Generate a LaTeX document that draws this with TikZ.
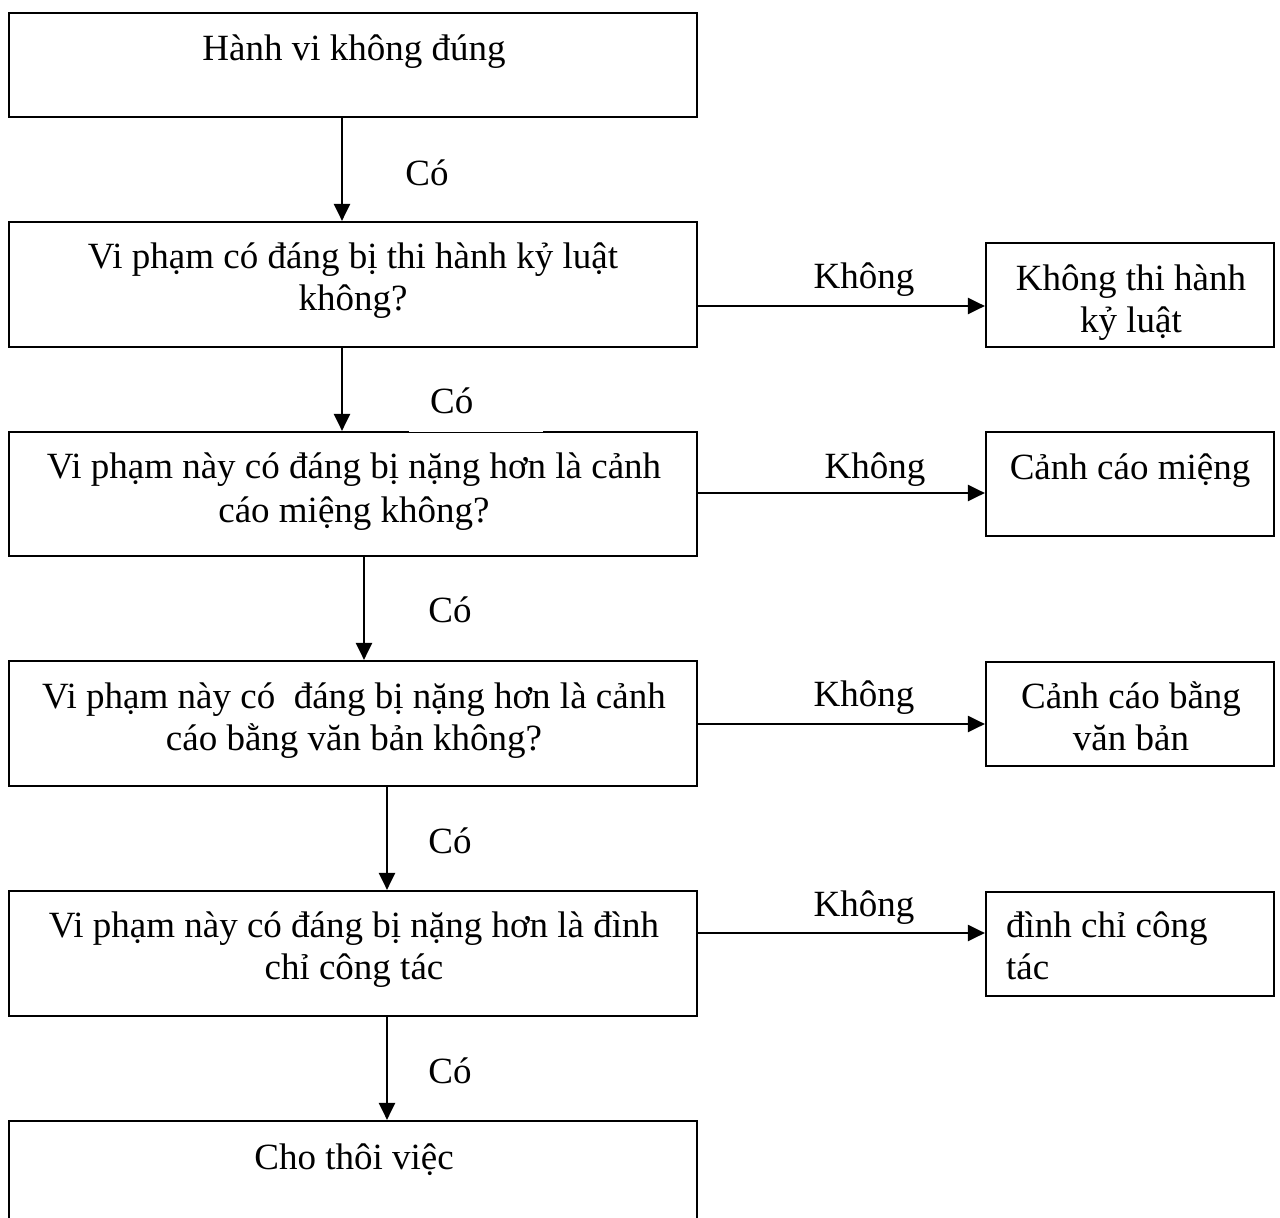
\documentclass[tikz,border=0pt]{standalone}
\usepackage{fontspec}
\setmainfont{Liberation Serif}
\usetikzlibrary{arrows.meta}
\tikzset{
  box/.style={draw, line width=2.2pt, rectangle, inner sep=0pt},
  bigbox/.style={box, minimum width=688pt},
  sidebox/.style={box, minimum width=288pt, minimum height=104pt},
  txt/.style={font=\fontsize{37}{42}\selectfont, align=center, anchor=base, inner sep=0pt},
  lbl/.style={font=\fontsize{37}{42}\selectfont, anchor=base, inner sep=0pt},
  arr/.style={line width=2.2pt, -{Triangle[length=17pt,width=16pt]}},
}
\begin{document}
\begin{tikzpicture}[x=1pt,y=-1pt]
\useasboundingbox (0,0) rectangle (1280,1218);
\clip (0,0) rectangle (1280,1218);
% main boxes
\node[bigbox, minimum height=104pt] (b1) at (353,65) {};
\node[bigbox, minimum height=125pt] (b2) at (353,284.5) {};
\node[bigbox, minimum height=124pt] (b3) at (353,494) {};
\node[bigbox, minimum height=125pt] (b4) at (353,723.5) {};
\node[bigbox, minimum height=125pt] (b5) at (353,953.5) {};
\node[bigbox, minimum height=125pt] (b6) at (353,1183.5) {};
% side boxes
\node[sidebox] (r1) at (1130,295) {};
\node[sidebox] (r2) at (1130,484) {};
\node[sidebox] (r3) at (1130,714) {};
\node[sidebox] (r4) at (1130,944) {};
% texts (base anchor = baseline of last line)
\node[txt] (t1) at (354,60) {Hành vi không đúng};
\node[txt] (t2) at (353,310) {Vi phạm có đáng bị thi hành kỷ luật\\không?};
\node[txt] (t3) at (354,522) {Vi phạm này có đáng bị nặng hơn là cảnh\\[2pt]cáo miệng không?};
\node[txt] (t4) at (354,750) {Vi phạm này có \ đáng bị nặng hơn là cảnh\\cáo bằng văn bản không?};
\node[txt] (t5) at (354,979) {Vi phạm này có đáng bị nặng hơn là đình\\chỉ công tác};
\node[txt] (t6) at (354,1169) {Cho thôi việc};
\node[txt] (s1) at (1131,332) {Không thi hành\\kỷ luật};
\node[txt] (s2) at (1130,479) {Cảnh cáo miệng};
\node[txt] (s3) at (1131,750) {Cảnh cáo bằng\\văn bản};
\node[txt, align=left, anchor=base west] (s4) at (1006,979) {đình chỉ công\\tác};
% vertical arrows
\draw[arr] ([xshift=-11pt]b1.south) -- ([xshift=-11pt]b1.south |- b2.north);
\draw[arr] ([xshift=-11pt]b2.south) -- ([xshift=-11pt]b2.south |- b3.north);
\draw[arr] ([xshift=11pt]b3.south) -- ([xshift=11pt]b3.south |- b4.north);
\draw[arr] ([xshift=34pt]b4.south) -- ([xshift=34pt]b4.south |- b5.north);
\draw[arr] ([xshift=34pt]b5.south) -- ([xshift=34pt]b5.south |- b6.north);
% horizontal arrows
\draw[arr] ([yshift=-21.5pt]b2.east) -- ([yshift=-21.5pt]b2.east -| r1.west);
\draw[arr] ([yshift=1pt]b3.east) -- ([yshift=1pt]b3.east -| r2.west);
\draw[arr] ([yshift=-0.5pt]b4.east) -- ([yshift=-0.5pt]b4.east -| r3.west);
\draw[arr] ([yshift=20.5pt]b5.east) -- ([yshift=20.5pt]b5.east -| r4.west);
% labels
\node[lbl] (c1) at (427,185) {Có};
\node[font=\fontsize{37}{42}\selectfont, fill=white, anchor=south west, inner xsep=21pt, inner ysep=0pt,
      text width=92pt, align=left, text height=32pt, text depth=19pt] (c2) at (409,432.5) {Có};
\node[lbl] (c3) at (450,622) {Có};
\node[lbl] (c4) at (450,853) {Có};
\node[lbl] (c5) at (450,1083) {Có};
\node[lbl] (k1) at (864,288) {Không};
\node[lbl] (k2) at (875,478) {Không};
\node[lbl] (k3) at (864,706) {Không};
\node[lbl] (k4) at (864,916) {Không};
\end{tikzpicture}
\end{document}
